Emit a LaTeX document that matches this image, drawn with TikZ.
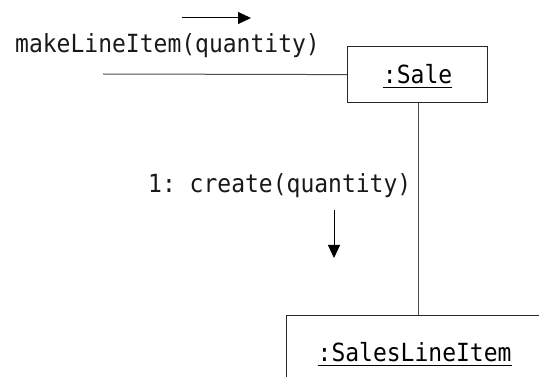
\documentclass[tikz,border=0pt]{standalone}
\usepackage{fontspec}
\setmonofont[FakeStretch=0.92]{DejaVu Sans Mono}
\usetikzlibrary{arrows.meta}
% underline set at a fixed distance below the baseline
\newcommand\objname[1]{\setbox0\hbox{#1}\rlap{\rule[-4.5pt]{\wd0}{0.9pt}}\box0}
\tikzset{
  objbox/.style={draw=black!85, line width=1.2pt, rectangle, inner sep=0pt,
    font=\ttfamily\fontsize{25pt}{25pt}\selectfont},
  msg/.style={font=\ttfamily\fontsize{25pt}{25pt}\selectfont, inner sep=0pt, anchor=base west, text=black!90},
  link/.style={draw=black!70, line width=1pt},
  msgarrow/.style={draw=black, line width=1pt, -{Triangle[length=13pt,width=12pt]}}
}
\begin{document}
\begin{tikzpicture}[x=1pt, y=-1pt]
  \useasboundingbox (0,0) rectangle (539,377);

  % objects
  \node[objbox, anchor=north west, minimum width=140pt,
        text height=37pt, text depth=19pt] (sale) at (347,46) {\objname{:Sale}};
  \node[objbox, anchor=north west, minimum width=256pt,
        text height=46pt, text depth=60pt] (item) at (286,315) {\objname{:SalesLineItem}};

  % incoming link and the link between the objects
  \coordinate (caller) at (103,74);
  \draw[link] (caller) -- (sale.west);
  \draw[link] (sale.south -| 418,0) -- (item.north -| 418,0);

  % messages
  \node[msg] (m0) at (15,53) {makeLineItem(quantity)};
  \coordinate (a0s) at (182,18);
  \coordinate (a0e) at (251,18);
  \draw[msgarrow] (a0s) -- (a0e);

  \node[msg] (m1) at (148,193) {1: create(quantity)};
  \coordinate (a1s) at (334,210);
  \coordinate (a1e) at (334,258);
  \draw[msgarrow] (a1s) -- (a1e);
\end{tikzpicture}
\end{document}
